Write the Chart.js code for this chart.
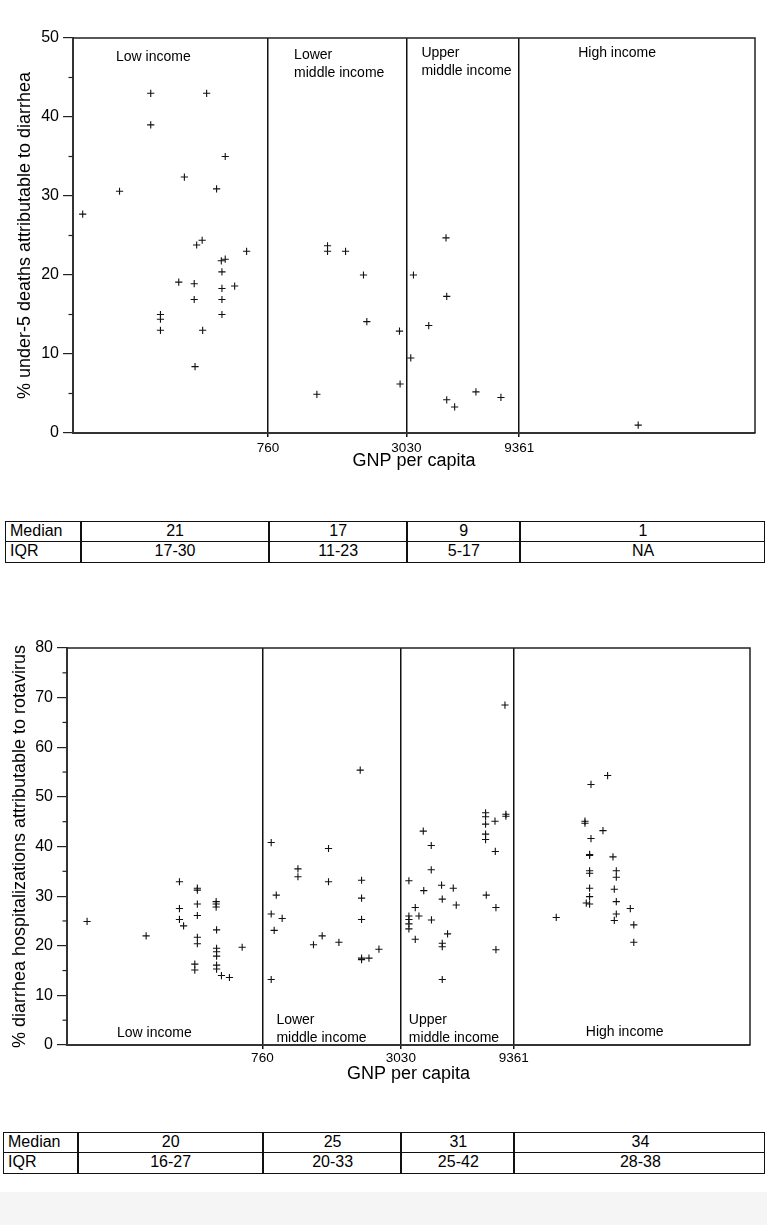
<!DOCTYPE html>
<html>
<head>
<meta charset="utf-8">
<title>Diarrhea and rotavirus by GNP per capita</title>
<script src="https://cdn.jsdelivr.net/npm/chart.js@4.4.1/dist/chart.umd.min.js"></script>
<style>
  body { margin: 0; background: #fff; font-family: 'Liberation Sans', Arial, sans-serif; }
  #page { position: relative; width: 767px; height: 1225px; overflow: hidden; }
  canvas { position: absolute; left: 0; }
  .tbl { position: absolute; box-sizing: border-box; border: 1.5px solid #111; }
  .vline { position: absolute; top: 0; bottom: 0; width: 1.5px; background: #111; }
  .hline { position: absolute; left: 0; right: 0; height: 1.5px; background: #111; }
  .cell { position: absolute; font-size: 16px; line-height: 20px; height: 20px; color: #000; white-space: nowrap; text-align: center; }
  .cell.head { text-align: left; padding-left: 4px; }
  #band { position: absolute; left: 0; top: 1192px; width: 767px; height: 33px; background: #f5f5f5; }
</style>
</head>
<body>
<div id="page">
  <canvas id="deathsChart" width="767" height="480" style="top:0px"></canvas>
  <canvas id="rotaChart" width="767" height="470" style="top:620px"></canvas>
  <div id="band"></div>
</div>
<script>
// income group boundaries (GNP per capita, US$)
const gnpBreaks = [760, 3030, 9361];
const incomeGroups = ['Low income', 'Lower\nmiddle income', 'Upper\nmiddle income', 'High income'];
const statRows = ['Median', 'IQR'];

// top panel: % under-5 deaths attributable to diarrhea
const deathsGnp = [119, 172, 235, 235, 411, 495, 329, 454, 372, 393, 613, 476, 495, 311, 363, 363,
  479, 479, 479, 479, 544, 259, 259, 259, 395, 366,
  1377, 1377, 1649, 1973, 2040, 1238, 2828, 2845,
  3166, 3252, 4504, 4536, 3789, 4536, 4910, 6076, 7800,
  30780];
const deathsPct = [27.7, 30.6, 43, 39, 43, 35, 32.4, 30.9, 23.8, 24.4, 23.0, 21.8, 22.0, 19.1, 18.9, 16.9,
  20.4, 18.3, 16.9, 15.0, 18.6, 15.0, 14.4, 13.0, 13.0, 8.4,
  23.7, 23.0, 23.0, 20.0, 14.1, 4.9, 12.9, 6.2,
  9.5, 20.0, 24.7, 17.3, 13.6, 4.2, 3.3, 5.2, 4.5,
  1.0];
const deathsMedian = ['21', '17', '9', '1'];
const deathsIqr = ['17-30', '11-23', '5-17', 'NA'];

// bottom panel: % diarrhea hospitalizations attributable to rotavirus
const rotaGnp = [132, 238, 332, 332, 332, 346, 397, 397, 397, 397, 397, 397, 387, 387, 479, 479, 479,
  481, 481, 481, 481, 481, 481, 505, 547, 621,
  830, 830, 830, 873, 855, 926, 1084, 1084, 1266, 1381, 1471, 1471, 1632, 2019,
  2046, 2046, 2046, 2046, 2046, 2203, 2434,
  3283, 3283, 3283, 3283, 3283, 3498, 3498, 3629, 3789, 3808, 4104, 4104, 4113, 4549,
  4581, 4581, 4581, 4581, 4830, 5113, 5268, 7060, 7060, 7060, 7060, 7060, 7110, 7756, 7780,
  7830, 7830, 8568, 8650, 8650,
  14300, 19050, 19050, 20230, 20230, 23880, 22800, 19950, 19950, 19950, 19950, 19950, 19950, 19950,
  19300, 25200, 26050, 26050, 26050, 26050, 25530, 25530, 29960, 31020, 31020];
const rotaPct = [24.9, 22.0, 32.9, 27.5, 25.3, 24.0, 31.6, 31.2, 28.4, 26.1, 21.7, 20.4, 16.3, 15.1, 28.9, 28.4, 27.8,
  23.2, 19.5, 18.8, 17.9, 16.1, 15.3, 14.0, 13.6, 19.7,
  40.8, 26.4, 13.2, 30.2, 23.1, 25.5, 35.5, 33.9, 20.2, 22.0, 39.6, 32.9, 20.7, 55.4,
  33.2, 29.6, 25.3, 17.5, 17.2, 17.5, 19.3,
  33.1, 26.0, 25.3, 24.4, 23.4, 27.7, 21.3, 26.0, 43.1, 31.1, 40.2, 35.3, 25.2, 32.2,
  29.4, 20.5, 19.8, 13.2, 22.4, 31.6, 28.2, 46.8, 46.0, 44.5, 42.5, 41.4, 30.2, 45.1, 39.0,
  27.7, 19.2, 68.5, 46.5, 46.1,
  25.7, 45.1, 44.7, 52.5, 41.6, 54.3, 43.2, 38.4, 38.2, 35.1, 34.6, 31.6, 29.9, 28.4,
  28.6, 37.9, 35.1, 33.8, 28.9, 26.4, 31.4, 25.1, 27.5, 24.2, 20.7];
const rotaMedian = ['20', '25', '31', '34'];
const rotaIqr = ['16-27', '20-33', '25-42', '28-38'];

Chart.defaults.font.family = "'Liberation Sans', Arial, Helvetica, sans-serif";
Chart.defaults.color = '#000';

// box around plot area + short minor ticks on the y axis
const framePlugin = {
  id: 'frame',
  afterDraw(chart) {
    const { ctx, chartArea: a } = chart;
    const y = chart.scales.y;
    const step = chart.options.scales.y.ticks.stepSize;
    ctx.save();
    ctx.strokeStyle = '#222';
    ctx.lineWidth = 1.5;
    ctx.beginPath();
    ctx.moveTo(a.left, a.top);
    ctx.lineTo(a.right, a.top);
    ctx.lineTo(a.right, a.bottom);
    ctx.stroke();
    ctx.lineWidth = 1.2;
    for (let v = step / 2; v < y.max; v += step) {
      const py = y.getPixelForValue(v);
      ctx.beginPath();
      ctx.moveTo(a.left - 4.5, py);
      ctx.lineTo(a.left, py);
      ctx.stroke();
    }
    ctx.restore();
  }
};

// income group names inside each band
const regionLabels = {
  id: 'regionLabels',
  afterDatasetsDraw(chart, args, opts) {
    const { ctx, chartArea: a, scales: { x } } = chart;
    const starts = [a.left].concat(gnpBreaks.map(b => x.getPixelForValue(b)));
    ctx.save();
    ctx.fillStyle = '#000';
    ctx.font = "14px 'Liberation Sans', Arial, sans-serif";
    ctx.textBaseline = 'middle';
    incomeGroups.forEach((name, i) => {
      const y0 = (opts.fromTop ? a.top : a.bottom) + opts.dy[i];
      name.split('\n').forEach((ln, j) => ctx.fillText(ln, starts[i] + opts.dx[i], y0 + j * 18));
    });
    ctx.restore();
  }
};

function makeChart(id, gnp, pct, cfg) {
  const ctx = document.getElementById(id).getContext('2d');
  return new Chart(ctx, {
    type: 'scatter',
    data: {
      datasets: [{
        data: gnp.map((g, i) => ({ x: g, y: pct[i] })),
        pointStyle: 'cross',
        pointRadius: 3.6,
        pointHoverRadius: 3.6,
        borderColor: '#111',
        borderWidth: 1.1
      }]
    },
    options: {
      responsive: false,
      animation: false,
      layout: { padding: { top: cfg.padTop, right: cfg.padRight, left: 0, bottom: 0 } },
      plugins: {
        legend: { display: false },
        tooltip: { enabled: false },
        regionLabels: cfg.labels
      },
      scales: {
        x: {
          type: 'logarithmic',
          min: 108,
          max: 99000,
          afterBuildTicks: s => { s.ticks = gnpBreaks.map(v => ({ value: v })); },
          afterFit: s => { s.height = cfg.xHeight; },
          ticks: { callback: v => String(v), autoSkip: false, maxRotation: 0, padding: cfg.xTickPad, color: '#000', font: { size: 13.5 } },
          grid: { color: '#111', lineWidth: 1.5, tickLength: 4, drawOnChartArea: true },
          border: { color: '#333', width: 2 },
          title: { display: true, text: 'GNP per capita', color: '#000', font: { size: 18 }, padding: { top: 0, bottom: cfg.xTitlePad } }
        },
        y: {
          min: 0,
          max: cfg.yMax,
          afterFit: s => { s.width = cfg.yWidth; },
          ticks: { stepSize: 10, color: '#000', font: { size: 16 }, padding: 4 },
          grid: { drawOnChartArea: false, color: '#222', lineWidth: 1.2, tickLength: 10 },
          border: { color: '#333', width: 2 },
          title: { display: true, text: cfg.yTitle, color: '#000', font: { size: 18 }, padding: { top: cfg.yTitlePad, bottom: 0 } }
        }
      }
    },
    plugins: [framePlugin, regionLabels]
  });
}

// Median / IQR table, columns lined up with the chart's income bands
function makeTable(chart, t, medians, iqrs) {
  const x = chart.scales.x;
  const edges = [t.left, t.headRight].concat(gnpBreaks.map(b => x.getPixelForValue(b)), [t.right]);
  const box = document.createElement('div');
  box.className = 'tbl';
  box.style.left = t.left + 'px';
  box.style.top = t.top + 'px';
  box.style.width = (t.right - t.left) + 'px';
  box.style.height = (t.rowH * 2 + 1.5) + 'px';
  const mid = document.createElement('div');
  mid.className = 'hline';
  mid.style.top = (t.rowH - 1.5) + 'px';
  box.appendChild(mid);
  edges.slice(1, -1).forEach(e => {
    const v = document.createElement('div');
    v.className = 'vline';
    v.style.left = Math.round(e - t.left - 1.5) + 'px';
    box.appendChild(v);
  });
  const rows = [[statRows[0]].concat(medians), [statRows[1]].concat(iqrs)];
  rows.forEach((row, r) => {
    row.forEach((txt, c) => {
      const cell = document.createElement('div');
      cell.className = 'cell' + (c === 0 ? ' head' : '');
      cell.style.left = (edges[c] - t.left) + 'px';
      cell.style.width = (edges[c + 1] - edges[c] - (c === 0 ? 4 : 0)) + 'px';
      cell.style.top = (r * t.rowH - 1) + 'px';
      cell.textContent = txt;
      box.appendChild(cell);
    });
  });
  document.getElementById('page').appendChild(box);
}

const deathsChart = makeChart('deathsChart', deathsGnp, deathsPct, {
  padTop: 38, padRight: 12, xHeight: 47, yWidth: 73, yMax: 50,
  xTickPad: 3, xTitlePad: 8, yTitlePad: 14,
  yTitle: '% under-5 deaths attributable to diarrhea',
  labels: { fromTop: true, dx: [43, 26, 15, 59], dy: [19, 17, 15, 15] }
});

const rotaChart = makeChart('rotaChart', rotaGnp, rotaPct, {
  padTop: 28, padRight: 17, xHeight: 45, yWidth: 67, yMax: 80,
  xTickPad: 1, xTitlePad: 5, yTitlePad: 9,
  yTitle: '% diarrhea hospitalizations attributable to rotavirus',
  labels: { fromTop: false, dx: [50, 14, 8, 72], dy: [-12, -25, -25, -13] }
});

makeTable(deathsChart, { left: 5, headRight: 80, right: 765, top: 521, rowH: 20 }, deathsMedian, deathsIqr);
makeTable(rotaChart, { left: 3, headRight: 77, right: 765, top: 1132, rowH: 20 }, rotaMedian, rotaIqr);
</script>
</body>
</html>
